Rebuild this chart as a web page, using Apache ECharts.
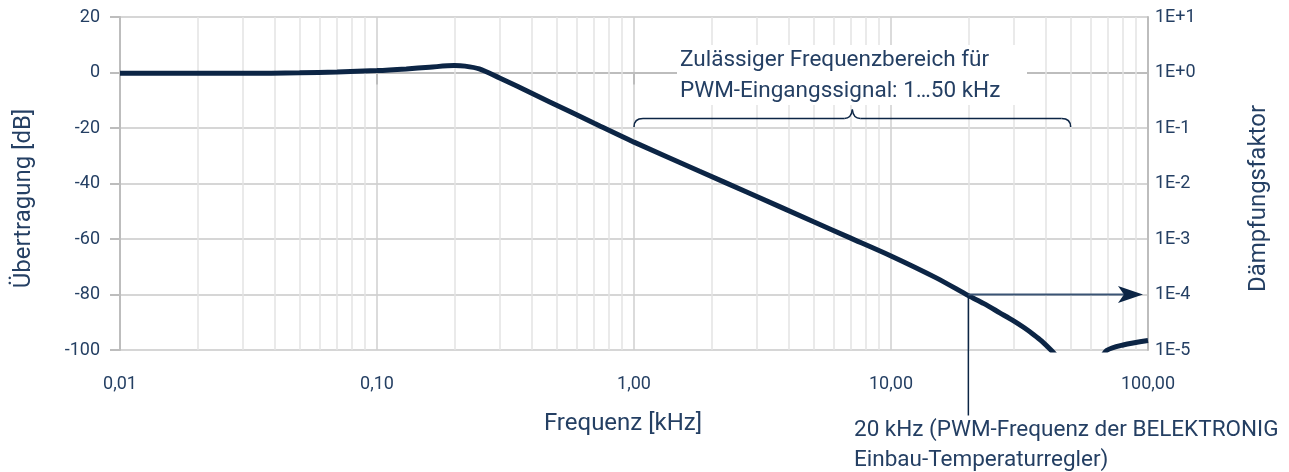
<!DOCTYPE html>
<html>
<head>
<meta charset="utf-8">
<script src="https://cdn.jsdelivr.net/npm/echarts@6/dist/echarts.min.js"></script>
<style>
    html, body { margin: 0; padding: 0; background: #fff; }
    #chart { width: 1289px; height: 472px; }
</style>
</head>
<body>
<div id="chart"></div>
<script>
// Frequenzgang
const freqKHz = [0.01, 0.02, 0.03, 0.05, 0.07, 0.1, 0.13, 0.16, 0.2, 0.22, 0.25, 0.3, 0.35, 0.47, 0.7, 1, 1.8, 2.8, 5, 6.9, 10, 15, 20, 23, 26.5, 30, 33, 35.7, 38.5, 42.3, 45, 50, 55, 60, 65, 69, 80, 100];
const gainDb  = [-0.3, -0.3, -0.3, -0.1, 0.2, 0.7, 1.3, 1.9, 2.5, 2.3, 1.3, -2.0, -4.9, -10.6, -18.3, -25.1, -35.6, -43.4, -53.8, -59.5, -66.1, -74.0, -80.4, -83.3, -86.6, -89.5, -92.0, -94.3, -96.7, -100.4, -103.2, -107.5, -110, -109, -104, -100.2, -98.2, -96.6];

const dbTicks = [-100, -80, -60, -40, -20, 0, 20];
const decades = [0.01, 0.1, 1, 10];
const minorSteps = [2, 3, 4, 5, 6, 7, 8, 9];

const rangeFrom = 1, rangeTo = 50;     // kHz, zulässiger Bereich
const pwmFreq = 20, pwmDb = -80;        // BELEKTRONIG Regler

const textColor = '#243f63';
const navy = '#0c2545';
const fontFamily = 'Roboto, sans-serif';

const chart = echarts.init(document.getElementById('chart'));

let minorLines = [];
decades.forEach(d => minorSteps.forEach(m => minorLines.push({ xAxis: +(d * m).toPrecision(3) })));

const option = {
    animation: false,
    textStyle: { fontFamily: fontFamily },
    grid: { left: 120, right: 141, top: 17, bottom: 122 },
    xAxis: {
        type: 'log',
        logBase: 10,
        min: 0.01,
        max: 100,
        name: 'Frequenz [kHz]',
        nameLocation: 'middle',
        nameGap: 62,
        nameTextStyle: { color: textColor, fontSize: 24, padding: [0, 22, 0, 0] },
        axisLine: { show: true, lineStyle: { color: '#bdbdbd', width: 2 } },
        axisTick: { show: true, length: 12, lineStyle: { color: '#bdbdbd', width: 2 } },
        axisLabel: {
            color: textColor, fontSize: 18, margin: 25,
            formatter: v => v.toFixed(2).replace('.', ',')
        },
        splitLine: { show: true, lineStyle: { color: '#cfcfcf', width: 1.5 } },
        minorTick: { show: false },
        minorSplitLine: { show: false }
    },
    yAxis: [{
        type: 'value',
        min: -100,
        max: 20,
        interval: 20,
        name: 'Übertragung [dB]',
        nameLocation: 'middle',
        nameRotate: 90,
        nameGap: 84,
        nameTextStyle: { color: textColor, fontSize: 24, padding: [0, 30, 0, 0] },
        axisLine: { show: true, lineStyle: { color: '#bdbdbd', width: 2 } },
        axisTick: { show: true, length: 10, lineStyle: { color: '#bdbdbd', width: 2 } },
        axisLabel: { color: textColor, fontSize: 18, margin: 20 },
        splitLine: { show: true, lineStyle: { color: '#c9c9c9', width: 1.5 } }
    }, {
        type: 'value',
        position: 'right',
        min: -100,
        max: 20,
        interval: 20,
        name: 'Dämpfungsfaktor',
        nameLocation: 'middle',
        nameRotate: 90,
        nameGap: 99,
        nameTextStyle: { color: textColor, fontSize: 24, padding: [0, 30, 0, 0] },
        axisLine: { show: true, lineStyle: { color: '#bdbdbd', width: 2 } },
        axisTick: { show: false },
        axisLabel: {
            color: textColor, fontSize: 18, margin: 7,
            formatter: v => {
                const e = Math.round(v / 20);
                return '1E' + (e >= 0 ? '+' : '-') + Math.abs(e);
            }
        },
        splitLine: { show: false }
    }],
    series: [{
        // nur Nebengitter
        type: 'line',
        data: [],
        silent: true,
        markLine: {
            silent: true,
            z: 1,
            symbol: 'none',
            label: { show: false },
            lineStyle: { color: '#e3e3e3', width: 1.5, type: 'solid' },
            data: minorLines
        }
    }, {
        name: 'Übertragung',
        type: 'line',
        z: 3,
        data: freqKHz.map((f, i) => [f, gainDb[i]]),
        smooth: 0.3,
        showSymbol: false,
        clip: true,
        lineStyle: { color: navy, width: 5 }
    }]
};

chart.setOption(option);

function drawAnnotations() {
    const p1 = chart.convertToPixel({ seriesIndex: 1 }, [rangeFrom, -20]);
    const p2 = chart.convertToPixel({ seriesIndex: 1 }, [rangeTo, -20]);
    const pm = chart.convertToPixel({ seriesIndex: 1 }, [Math.sqrt(rangeFrom * rangeTo), -20]);
    const pw = chart.convertToPixel({ seriesIndex: 1 }, [pwmFreq, pwmDb]);
    const pr = chart.convertToPixel({ seriesIndex: 1 }, [100, pwmDb]);

    const y0 = p1[1] - 1, yb = p1[1] - 9.5, r = 9;
    const xm = pm[0];
    const braceStyle = { fill: null, stroke: navy, lineWidth: 1.5 };
    const seg = (x1, y1, x2, y2) => ({ type: 'line', z: 11, silent: true, shape: { x1, y1, x2, y2 }, style: braceStyle });
    const curve = (x1, y1, cx, cy, x2, y2) => ({ type: 'bezierCurve', z: 11, silent: true, shape: { x1, y1, cpx1: cx, cpy1: cy, x2, y2 }, style: braceStyle });

    const tip = pr[0] - 5;

    chart.setOption({
        graphic: [
            {
                type: 'rect', z: 10, silent: true,
                shape: { x: 677, y: 45, width: 350, height: 60 },
                style: { fill: '#fff' }
            },
            {
                type: 'text', z: 11, silent: true,
                x: 680, y: 45,
                style: {
                    text: 'Zulässiger Frequenzbereich für\nPWM-Eingangssignal: 1…50 kHz',
                    fill: textColor, font: '22.5px ' + fontFamily, lineHeight: 31
                }
            },
            curve(p1[0], y0, p1[0], yb, p1[0] + r, yb),
            seg(p1[0] + r, yb, xm - 8, yb),
            curve(xm - 8, yb, xm - 1, yb, xm, yb - 9),
            curve(xm, yb - 9, xm + 1, yb, xm + 8, yb),
            seg(xm + 8, yb, p2[0] - r, yb),
            curve(p2[0] - r, yb, p2[0], yb, p2[0], y0),
            {
                type: 'line', z: 11, silent: true,
                shape: { x1: pw[0], y1: pw[1], x2: pw[0], y2: pw[1] + 121 },
                style: { stroke: navy, lineWidth: 1.5 }
            },
            {
                type: 'line', z: 11, silent: true,
                shape: { x1: pw[0], y1: pw[1], x2: tip - 18, y2: pw[1] },
                style: { stroke: '#3a5475', lineWidth: 2 }
            },
            {
                type: 'polygon', z: 11, silent: true,
                shape: { points: [[tip, pw[1]], [tip - 25, pw[1] - 8.5], [tip - 19, pw[1]], [tip - 25, pw[1] + 8.5]] },
                style: { fill: navy }
            },
            {
                type: 'text', z: 11, silent: true,
                x: 854, y: 415,
                style: {
                    text: '20 kHz (PWM-Frequenz der BELEKTRONIG\nEinbau-Temperaturregler)',
                    fill: textColor, font: '22.5px ' + fontFamily, lineHeight: 30
                }
            }
        ]
    });
}

drawAnnotations();
</script>
</body>
</html>
